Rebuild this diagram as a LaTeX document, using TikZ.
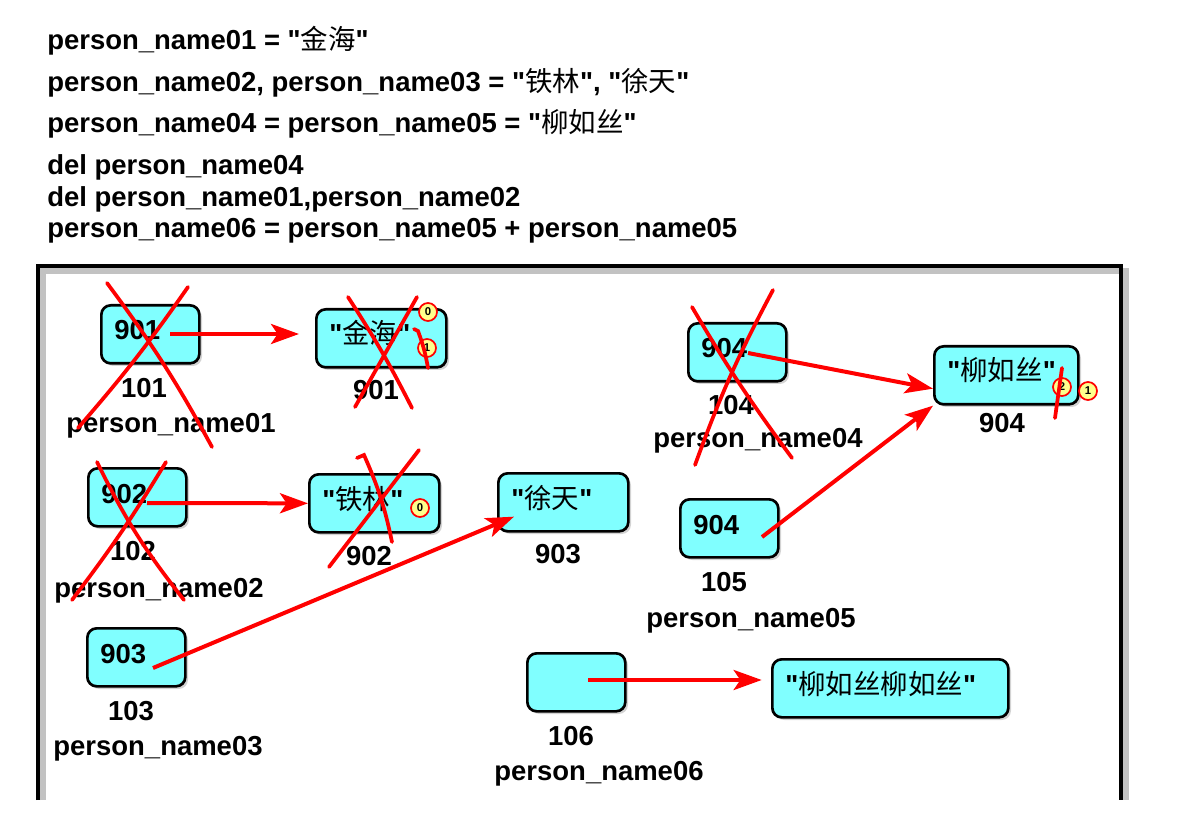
\documentclass[tikz,border=0pt]{standalone}
\usepackage{fontspec}
\setmainfont{Liberation Sans}[Ligatures=TeXOff]
\newfontfamily\cjk{Noto Sans CJK SC}
\usetikzlibrary{positioning,shadows,arrows.meta,calc}
\definecolor{cellcyan}{RGB}{128,255,255}
\definecolor{badgeyellow}{RGB}{255,255,140}
\newcommand{\zh}[1]{{\cjk\mdseries #1}}
\tikzset{
  codeline/.style={anchor=base west, inner sep=0pt, font=\bfseries\fontsize{20.6}{24}\selectfont},
  lbl/.style={anchor=base, inner sep=0pt, font=\bfseries\fontsize{20.6}{24}\selectfont},
  cell/.style={rectangle, draw, line width=2pt, rounded corners=7pt, fill=cellcyan,
    drop shadow={shadow xshift=2pt, shadow yshift=-2pt, opacity=.35},
    anchor=north west, inner xsep=9.75pt, inner ysep=0pt, text width=#1,
    text height=26pt, text depth=17.5pt, align=left,
    font=\bfseries\fontsize{20.6}{24}\selectfont},
  cell/.default=54pt,
  refarrow/.style={draw=red, line width=3pt, -{Stealth[length=21pt,width=15pt,inset=5pt]}},
  cross/.style={draw=red, line width=2.8pt, line cap=round},
  badge/.style={circle, draw=red, line width=1.3pt, fill=badgeyellow, minimum size=13.5pt,
    inner sep=0pt, font=\bfseries\fontsize{8.5}{8.5}\selectfont}
}

\begin{document}
\begin{tikzpicture}[x=0.75pt, y=-0.75pt]
  \useasboundingbox (0,0) rectangle (1203,830);

  % code lines
  \node[codeline] (l1) at (47,50) {person\_name01 = "\zh{金海}"};
  \node[codeline] (l2) at (47,92) {person\_name02, person\_name03 = "\zh{铁林}", "\zh{徐天}"};
  \node[codeline] (l3) at (47,133) {person\_name04 = person\_name05 = "\zh{柳如丝}"};
  \node[codeline] (l4) at (47,175) {del person\_name04};
  \node[codeline] (l5) at (47,207) {del person\_name01,person\_name02};
  \node[codeline] (l6) at (47,238) {person\_name06 = person\_name05 + person\_name05};

  % frame
  \draw[line width=4pt, black!40, opacity=.6] (43,800) -- (43,271) -- (1126,271) -- (1126,800);
  \draw[line width=2.5pt] (38,800) -- (38,266) -- (1121,266) -- (1121,800);

  % memory cells
  \node[cell] (b101) at (100,304) {901};
  \node[cell=78pt] (s901) at (315,308) {"\zh{金海}"};
  \node[cell] (b102) at (87,467) {902};
  \node[cell=78pt] (s902) at (308,473) {"\zh{铁林}"};
  \node[cell=78pt] (s903) at (497,472) {"\zh{徐天}"};
  \node[cell] (b103) at (86,627) {903};
  \node[cell] (b104) at (687,322) {904};
  \node[cell=88.5pt] (s904) at (933,345) {"\zh{柳如丝}"};
  \node[cell] (b105) at (679,498) {904};
  \node[cell] (b106) at (526,652) {};
  \node[cell=157.5pt] (s906) at (771,658) {"\zh{柳如丝柳如丝}"};

  % addresses and names
  \node[lbl] (a101) at (144,398) {101};
  \node[lbl] (n101) at (171,432) {person\_name01};
  \node[lbl] (a901) at (376,400) {901};
  \node[lbl] (a102) at (133,560) {102};
  \node[lbl] (n102) at (159,597) {person\_name02};
  \node[lbl] (a902) at (369,565) {902};
  \node[lbl] (a903) at (558,563) {903};
  \node[lbl] (a103) at (131,720) {103};
  \node[lbl] (n103) at (158,755) {person\_name03};
  \node[lbl] (a104) at (731,415) {104};
  \node[lbl] (n104) at (758,448) {person\_name04};
  \node[lbl] (a904) at (1002,432) {904};
  \node[lbl] (a105) at (724,591) {105};
  \node[lbl] (n105) at (751,627) {person\_name05};
  \node[lbl] (a106) at (571,745) {106};
  \node[lbl] (n106) at (599,780) {person\_name06};

  % reference counts
  \node[badge] (c901a) at (428,312) {0};
  \node[badge] (c901b) at (427,348) {1};
  \node[badge] (c902) at (420,508) {0};
  \node[badge] (c904a) at (1062,387) {2};
  \node[badge] (c904b) at (1088,391) {1};

  % references
  \coordinate (p101) at (170,334);
  \coordinate (p102) at (147,503);
  \coordinate (p103) at (153,668);
  \coordinate (p104) at (748,353);
  \coordinate (p105) at (762,537);
  \coordinate (p106) at (588,680);
  \draw[refarrow, shorten >=12pt] (p101) -- (p101 -| s901.west);
  \draw[refarrow] (p102) -- (s902.west);
  \draw[refarrow] (p103) -- ($(s903.south west)+(17,-16)$);
  \draw[refarrow] (p104) -- ($(s904.south west)+(0,-17)$);
  \draw[refarrow] (p105) -- (s904.south west);
  \draw[refarrow, shorten >=7pt] (p106) -- (p106 -| s906.west);

  % deleted
  \draw[cross] (107,283) to[bend left=4] (212,447);
  \draw[cross] (188,287) to[bend left=3] (78,428);
  \draw[cross] (348,297) to[bend left=3] (412,408);
  \draw[cross] (417,297) -- (355,407);
  \draw[cross] (414,329) -- (418,331) to[bend left=5] (428,368);
  \draw[cross] (97,462) to[bend right=6] (184,600);
  \draw[cross] (166,462) to[bend left=3] (72,600);
  \draw[cross] (357,458) -- (364,455) to[bend left=6] (392,542);
  \draw[cross] (419,450) -- (329,567);
  \draw[cross] (692,307) to[bend right=3] (792,458);
  \draw[cross] (773,290) to[bend right=4] (695,465);
  \draw[cross] (1062,368) -- (1055,418);
\end{tikzpicture}
\end{document}
